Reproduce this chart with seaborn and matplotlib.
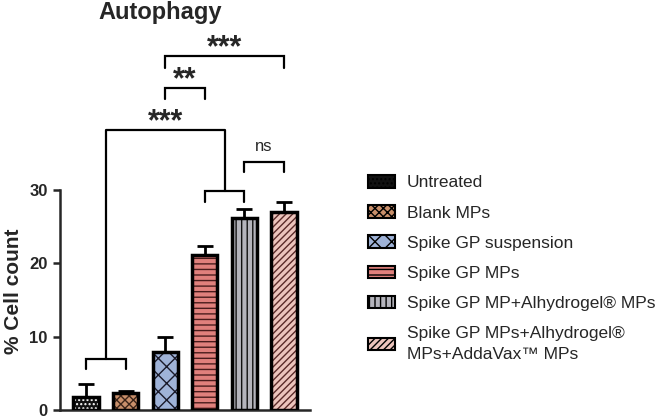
import numpy as np
import pandas as pd
import matplotlib
matplotlib.use("Agg")
import matplotlib.pyplot as plt
from matplotlib.patches import Rectangle
import seaborn as sns

sns.set_style("white")
plt.rcParams['font.family'] = ['Liberation Sans', 'DejaVu Sans']
plt.rcParams['hatch.linewidth'] = 1.0

# data
groups = ["Untreated", "Blank MPs", "Spike GP suspension", "Spike GP MPs",
          "Spike GP MP+Alhydrogel® MPs",
          "Spike GP MPs+Alhydrogel®\nMPs+AddaVax™ MPs"]
mean_pct = [1.8, 2.3, 7.9, 21.1, 26.2, 27.0]
sd_pct = [1.7, 0.3, 2.0, 1.3, 1.2, 1.3]

face_colors = ["#111111", "#c98f6a", "#9fb3d8", "#e0807c", "#b4b4bc", "#ecc4bc"]
hatch_colors = ["#ffffff", "#3b2418", "#1a1a2a", "#4a1c1c", "#111111", "#5a2a28"]
hatches = ["....", "xxxx", "xx", "---", "|||", "/////"]

df = pd.DataFrame({"group": groups, "pct": mean_pct})

fig = plt.figure(figsize=(6.61, 4.2), dpi=100)
ax = fig.add_axes([60 / 661, 10 / 420, 250 / 661, 410 / 420])

sns.barplot(data=df, x="group", y="pct", hue="group", palette=face_colors,
            width=0.64, errorbar=None, legend=False, ax=ax)

# hatch fill + black outline on top
for p, fc, hc, h in zip(ax.patches, face_colors, hatch_colors, hatches):
    p.set_facecolor(fc)
    p.set_edgecolor(hc)
    p.set_hatch(h)
    p.set_linewidth(0)
    r = Rectangle(p.get_xy(), p.get_width(), p.get_height(), fill=False,
                  edgecolor="black", linewidth=2.5, zorder=3)
    ax.add_patch(r)

# one-sided error bars
x = np.arange(len(groups))
ax.errorbar(x, mean_pct, yerr=[np.zeros(len(sd_pct)), sd_pct], fmt="none",
            ecolor="black", elinewidth=2, capsize=6, capthick=2, zorder=2)

ax.set_xlim(-0.66, 5.66)
ax.set_ylim(0, 55.9)
ax.set_yticks([0, 10, 20, 30])
ax.set_yticklabels(["0", "10", "20", "30"], fontsize=12, fontweight="bold")
ax.set_xticks([])
ax.set_xlabel("")
ax.set_ylabel("% Cell count", fontsize=15, fontweight="bold")
ax.yaxis.set_label_coords(-0.148, 0.29)
ax.spines["top"].set_visible(False)
ax.spines["right"].set_visible(False)
ax.spines["left"].set_bounds(0, 30)
ax.spines["left"].set_linewidth(1.8)
ax.spines["bottom"].set_linewidth(1.8)
ax.tick_params(axis="y", direction="out", length=5, width=1.8, left=True, pad=4)


def bracket(x1, x2, h, drop, text=None, size=22, weight="bold", gap=0.0):
    ax.plot([x1, x1, x2, x2], [h - drop, h, h, h - drop], color="black",
            lw=1.6, clip_on=False, solid_joinstyle="miter")
    if text:
        ax.text((x1 + x2) / 2, h + gap, text, ha="center", va="baseline",
                fontsize=size, fontweight=weight, clip_on=False)


bracket(0, 1, 6.95, 1.35)
bracket(3, 4, 29.9, 1.5)
# joining bracket between the two groups
ax.plot([0.5, 0.5, 3.5, 3.5], [6.95, 38.2, 38.2, 29.9], color="black", lw=1.6,
        clip_on=False)
ax.text(2.0, 38.2, "***", ha="center", va="baseline", fontsize=22,
        fontweight="bold")
bracket(4, 5, 33.8, 1.4, "ns", size=12, weight="normal", gap=1.5)
bracket(2, 3, 43.9, 1.5, "**")
bracket(2, 5, 48.2, 1.6, "***")

fig.text(160 / 661, 1 - 13 / 420, "Autophagy", ha="center", va="center",
         fontsize=17, fontweight="bold")

# legend
handles = []
for fc, hc, h in zip(face_colors, hatch_colors, hatches):
    handles.append(Rectangle((0, 0), 1, 1, facecolor=fc, edgecolor="black",
                             hatch=h, linewidth=1.5))
leg = fig.legend(handles=handles, labels=groups, loc="upper left",
                 bbox_to_anchor=(368 / 661, 1 - 175 / 420), frameon=False,
                 fontsize=12.5, handlelength=1.55, handleheight=0.75,
                 handletextpad=0.7, labelspacing=0.85, borderpad=0,
                 borderaxespad=0)
for t in leg.get_texts():
    t.set_linespacing(1.55)

fig.savefig("out.png", dpi=100)
